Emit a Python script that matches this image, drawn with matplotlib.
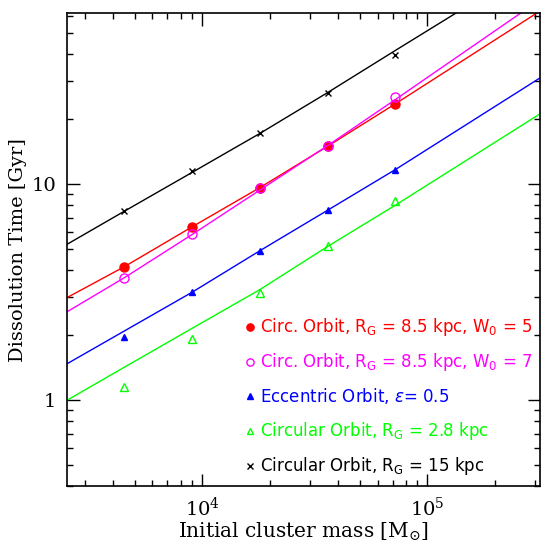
import matplotlib
matplotlib.use("Agg")
import matplotlib.pyplot as plt

# initial masses of the simulated clusters [Msun]
masses = [4500, 9000, 18000, 36000, 72000]

# dissolution times [Gyr]
t_w5 = [4.15, 6.35, 9.65, 15.0, 23.6]
t_w7 = [3.69, 5.89, 9.65, 15.0, 25.3]
t_ecc = [1.97, 3.16, 4.92, 7.58, 11.7]
t_rg28 = [1.156, 1.91, 3.14, 5.15, 8.37]
t_rg15 = [7.50, 11.48, 17.2, 26.6, 39.9]

# fitted relations, sampled at these masses
fit_masses = [2512, 4500, 9000, 18000, 36000, 72000, 316200]
fit_w5 = [2.99, 4.15, 6.35, 9.65, 15.0, 23.6, 63.5]
fit_w7 = [2.57, 3.69, 5.85, 9.4, 15.1, 24.7, 71.6]
fit_ecc = [1.476, 2.09, 3.16, 4.92, 7.58, 11.7, 31.1]
fit_rg28 = [1.0, 1.42, 2.15, 3.25, 5.15, 8.0, 21.2]
fit_rg15 = [5.28, 7.50, 11.35, 17.2, 26.6, 41.7, 108.0]

labels = [r"Circ. Orbit, $\mathrm{R_G}$ = 8.5 kpc, $\mathrm{W_0}$ = 5",
          r"Circ. Orbit, $\mathrm{R_G}$ = 8.5 kpc, $\mathrm{W_0}$ = 7",
          r"Eccentric Orbit, $\epsilon$= 0.5",
          r"Circular Orbit, $\mathrm{R_G}$ = 2.8 kpc",
          r"Circular Orbit, $\mathrm{R_G}$ = 15 kpc"]

fig = plt.figure(figsize=(5.45, 5.45), dpi=100)
ax = fig.add_axes([0.1235, 0.1083, 0.8673, 0.8673])

series = [
    (t_w5, fit_w5, "#ff0000", dict(marker="o", mfc="#ff0000", ms=6.5)),
    (t_w7, fit_w7, "#ff00ff", dict(marker="o", mfc="none", ms=6.5, mew=1)),
    (t_ecc, fit_ecc, "#0000ff", dict(marker="^", mfc="#0000ff", ms=5)),
    (t_rg28, fit_rg28, "#00ff00", dict(marker="^", mfc="none", ms=5.5, mew=1)),
    (t_rg15, fit_rg15, "black", dict(marker="x", ms=5, mew=1)),
]

for t, fit, col, mk in series:
    ax.plot(fit_masses, fit, color=col, lw=1)
    ax.plot(masses, t, ls="none", color=col, mec=col, **mk)

ax.set_xscale("log")
ax.set_yscale("log")
ax.set_xlim(10**3.4, 10**5.5)
ax.set_ylim(0.4, 62)

ax.set_xticks([1e4, 1e5])
ax.set_xticklabels([r"$10^4$", r"$10^5$"])
ax.set_yticks([1, 10])
ax.set_yticklabels(["1", "10"])

ax.tick_params(which="both", direction="in", top=True, right=True, width=1)
ax.tick_params(which="major", length=9, labelsize=14, pad=8)
ax.tick_params(which="minor", length=4.5)
for lab in ax.get_xticklabels() + ax.get_yticklabels():
    lab.set_family("DejaVu Serif")
    lab.set_math_fontfamily("dejavuserif")
for sp in ax.spines.values():
    sp.set_linewidth(1.2)

ax.set_xlabel(r"Initial cluster mass [M$_{\odot}$]", family="DejaVu Serif",
              fontsize=14.5, math_fontfamily="dejavuserif", labelpad=0)
ax.set_ylabel("Dissolution Time [Gyr]", family="DejaVu Serif", fontsize=14,
              labelpad=3)

# hand-made legend in the lower right
rows = [0.3364, 0.2623, 0.1893, 0.1153, 0.0423]
for (t, fit, col, mk), lab, yr in zip(series, labels, rows):
    m = dict(mk)
    m["ms"] = m["ms"] * 0.8
    ax.plot([0.3865], [yr], ls="none", color=col, mec=col,
            transform=ax.transAxes, clip_on=False, **m)
    ax.text(0.4077, yr, lab, color=col, transform=ax.transAxes, fontsize=12,
            va="center", ha="left", family="DejaVu Sans",
            math_fontfamily="dejavusans")

fig.savefig("out.png", dpi=100)
